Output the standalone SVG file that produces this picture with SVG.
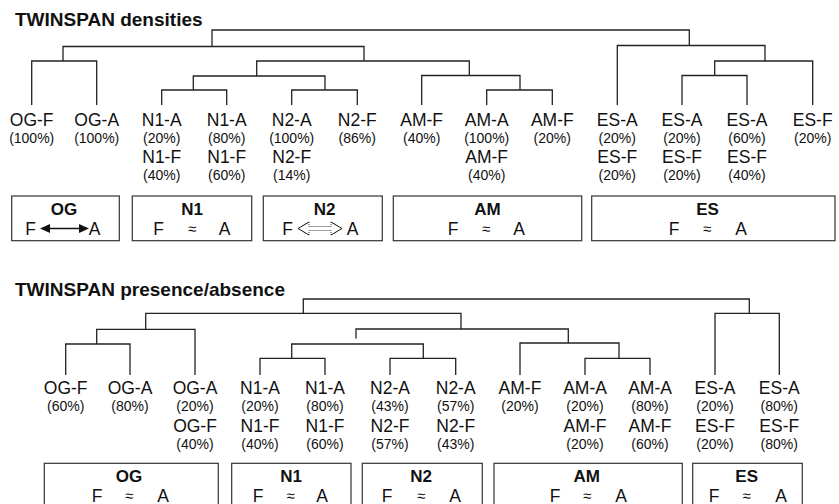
<svg xmlns="http://www.w3.org/2000/svg" width="839" height="504" viewBox="0 0 839 504">
<style>
text{font-family:"Liberation Sans",Arial,Helvetica,sans-serif;fill:#111}
.t{font-weight:bold;font-size:19px}
.n{font-size:17.5px;text-anchor:middle}
.p{font-size:14px;text-anchor:middle}
.bt{font-weight:bold;font-size:17px;text-anchor:middle}
.fa{font-size:17.5px;text-anchor:middle}
.ap{font-size:15px;text-anchor:middle}
.den{fill:none;stroke:#222;stroke-width:1.3}
.box{fill:none;stroke:#333;stroke-width:1.2}
</style>
<rect width="839" height="504" fill="#fff"/>
<text class="t" x="15" y="26">TWINSPAN densities</text>
<text class="t" x="15" y="296">TWINSPAN presence/absence</text>
<g id="connectors">
<path class="den" d="M212,46.5V30H689.3V45.5 M63,61V46.5H364V61 M31.7,105V61H96.7V105 M256.7,76V61H469.3V75.5 M193.3,90V76H325V90 M161.7,105V90H226.7V105 M291.7,105V90H357.3V105 M421.7,105V75.5H520V90 M486.7,105V90H552.3V105 M617.3,105V45.5H765V61 M714.7,75.5V61H812.7V105 M682,105V75.5H747V105"/>
<path class="den" d="M303.3,313.3V299H749.3V313.3 M145.7,329.3V313.3H461V329 M96.7,344V329.3H195V375 M65.7,375V344H130V375 M356,338.5V329H568.3V343 M291.7,358.3V344H423.3V358.3 M260,375V358.3H325V375 M390,375V358.3H455.7V375 M520,375V343H619V358.3 M585,375V358.3H650V375 M715,375V313.3H779.3V375"/>
</g>
<g id="leaves-top">
<text class="n" x="31.7" y="125.5">OG-F</text><text class="p" x="31.7" y="142.5">(100%)</text>
<text class="n" x="96.7" y="125.5">OG-A</text><text class="p" x="96.7" y="142.5">(100%)</text>
<text class="n" x="161.7" y="125.5">N1-A</text><text class="p" x="161.7" y="142.5">(20%)</text><text class="n" x="161.7" y="163">N1-F</text><text class="p" x="161.7" y="180">(40%)</text>
<text class="n" x="226.7" y="125.5">N1-A</text><text class="p" x="226.7" y="142.5">(80%)</text><text class="n" x="226.7" y="163">N1-F</text><text class="p" x="226.7" y="180">(60%)</text>
<text class="n" x="291.7" y="125.5">N2-A</text><text class="p" x="291.7" y="142.5">(100%)</text><text class="n" x="291.7" y="163">N2-F</text><text class="p" x="291.7" y="180">(14%)</text>
<text class="n" x="357.3" y="125.5">N2-F</text><text class="p" x="357.3" y="142.5">(86%)</text>
<text class="n" x="421.7" y="125.5">AM-F</text><text class="p" x="421.7" y="142.5">(40%)</text>
<text class="n" x="486.7" y="125.5">AM-A</text><text class="p" x="486.7" y="142.5">(100%)</text><text class="n" x="486.7" y="163">AM-F</text><text class="p" x="486.7" y="180">(40%)</text>
<text class="n" x="552.3" y="125.5">AM-F</text><text class="p" x="552.3" y="142.5">(20%)</text>
<text class="n" x="617.3" y="125.5">ES-A</text><text class="p" x="617.3" y="142.5">(20%)</text><text class="n" x="617.3" y="163">ES-F</text><text class="p" x="617.3" y="180">(20%)</text>
<text class="n" x="682" y="125.5">ES-A</text><text class="p" x="682" y="142.5">(20%)</text><text class="n" x="682" y="163">ES-F</text><text class="p" x="682" y="180">(20%)</text>
<text class="n" x="747" y="125.5">ES-A</text><text class="p" x="747" y="142.5">(60%)</text><text class="n" x="747" y="163">ES-F</text><text class="p" x="747" y="180">(40%)</text>
<text class="n" x="812.7" y="125.5">ES-F</text><text class="p" x="812.7" y="142.5">(20%)</text>
</g>
<g id="leaves-bottom">
<text class="n" x="65.7" y="394">OG-F</text><text class="p" x="65.7" y="411">(60%)</text>
<text class="n" x="130" y="394">OG-A</text><text class="p" x="130" y="411">(80%)</text>
<text class="n" x="195" y="394">OG-A</text><text class="p" x="195" y="411">(20%)</text><text class="n" x="195" y="431.5">OG-F</text><text class="p" x="195" y="448.5">(40%)</text>
<text class="n" x="260" y="394">N1-A</text><text class="p" x="260" y="411">(20%)</text><text class="n" x="260" y="431.5">N1-F</text><text class="p" x="260" y="448.5">(40%)</text>
<text class="n" x="325" y="394">N1-A</text><text class="p" x="325" y="411">(80%)</text><text class="n" x="325" y="431.5">N1-F</text><text class="p" x="325" y="448.5">(60%)</text>
<text class="n" x="390" y="394">N2-A</text><text class="p" x="390" y="411">(43%)</text><text class="n" x="390" y="431.5">N2-F</text><text class="p" x="390" y="448.5">(57%)</text>
<text class="n" x="455.7" y="394">N2-A</text><text class="p" x="455.7" y="411">(57%)</text><text class="n" x="455.7" y="431.5">N2-F</text><text class="p" x="455.7" y="448.5">(43%)</text>
<text class="n" x="520" y="394">AM-F</text><text class="p" x="520" y="411">(20%)</text>
<text class="n" x="585" y="394">AM-A</text><text class="p" x="585" y="411">(20%)</text><text class="n" x="585" y="431.5">AM-F</text><text class="p" x="585" y="448.5">(20%)</text>
<text class="n" x="650" y="394">AM-A</text><text class="p" x="650" y="411">(80%)</text><text class="n" x="650" y="431.5">AM-F</text><text class="p" x="650" y="448.5">(60%)</text>
<text class="n" x="715" y="394">ES-A</text><text class="p" x="715" y="411">(20%)</text><text class="n" x="715" y="431.5">ES-F</text><text class="p" x="715" y="448.5">(20%)</text>
<text class="n" x="779.3" y="394">ES-A</text><text class="p" x="779.3" y="411">(80%)</text><text class="n" x="779.3" y="431.5">ES-F</text><text class="p" x="779.3" y="448.5">(80%)</text>
</g>
<g id="box-OG-top">
<rect class="box" x="11.7" y="196" width="107.6" height="44.7"/>
<text class="bt" x="64" y="215">OG</text>
<text class="fa" x="30.5" y="234.5">F</text>
<line x1="48" y1="228.5" x2="81" y2="228.5" stroke="#111" stroke-width="1.3"/>
<polygon points="40,228.5 50,224 50,233" fill="#111"/>
<polygon points="89,228.5 79,224 79,233" fill="#111"/>
<text class="fa" x="94.5" y="234.5">A</text>
</g>
<g id="box-N1-top">
<rect class="box" x="132.3" y="196" width="119.4" height="44.7"/>
<text class="bt" x="192" y="215">N1</text>
<text class="fa" x="158.5" y="234.5">F</text><text class="ap" x="192" y="234">≈</text><text class="fa" x="224.5" y="234.5">A</text>
</g>
<g id="box-N2-top">
<rect class="box" x="263.3" y="196" width="119" height="44.7"/>
<text class="bt" x="324.5" y="215">N2</text>
<text class="fa" x="287.5" y="234.5">F</text>
<polyline points="309,222 298,228.5 309,235" fill="none" stroke="#111" stroke-width="1"/>
<polyline points="331,222 342,228.5 331,235" fill="none" stroke="#111" stroke-width="1"/>
<path d="M309,222V226.5H331V222 M309,235V230.5H331V235" fill="none" stroke="#111" stroke-width="0.8" stroke-dasharray="1,1"/>
<text class="fa" x="352.5" y="234.5">A</text>
</g>
<g id="box-AM-top">
<rect class="box" x="393.3" y="196" width="188.4" height="44.7"/>
<text class="bt" x="487.5" y="215">AM</text>
<text class="fa" x="453" y="234.5">F</text><text class="ap" x="486" y="234">≈</text><text class="fa" x="519" y="234.5">A</text>
</g>
<g id="box-ES-top">
<rect class="box" x="591.7" y="196" width="243.3" height="44.7"/>
<text class="bt" x="707.5" y="215">ES</text>
<text class="fa" x="674" y="234.5">F</text><text class="ap" x="707" y="234">≈</text><text class="fa" x="741" y="234.5">A</text>
</g>
<g id="box-OG-bottom">
<rect class="box" x="44.3" y="463.3" width="174" height="60"/>
<text class="bt" x="129" y="482">OG</text>
<text class="fa" x="97" y="501.5">F</text><text class="ap" x="129" y="501">≈</text><text class="fa" x="163" y="501.5">A</text>
</g>
<g id="box-N1-bottom">
<rect class="box" x="231.7" y="463.3" width="119.3" height="60"/>
<text class="bt" x="291" y="482">N1</text>
<text class="fa" x="258" y="501.5">F</text><text class="ap" x="290.5" y="501">≈</text><text class="fa" x="322" y="501.5">A</text>
</g>
<g id="box-N2-bottom">
<rect class="box" x="362.3" y="463.3" width="120" height="60"/>
<text class="bt" x="421" y="482">N2</text>
<text class="fa" x="387" y="501.5">F</text><text class="ap" x="421" y="501">≈</text><text class="fa" x="455" y="501.5">A</text>
</g>
<g id="box-AM-bottom">
<rect class="box" x="494" y="463.3" width="188.3" height="60"/>
<text class="bt" x="586.7" y="482">AM</text>
<text class="fa" x="555" y="501.5">F</text><text class="ap" x="587" y="501">≈</text><text class="fa" x="621" y="501.5">A</text>
</g>
<g id="box-ES-bottom">
<rect class="box" x="692.7" y="463.3" width="109.6" height="60"/>
<text class="bt" x="746.7" y="482">ES</text>
<text class="fa" x="714" y="501.5">F</text><text class="ap" x="746.7" y="501">≈</text><text class="fa" x="781" y="501.5">A</text>
</g>
</svg>
